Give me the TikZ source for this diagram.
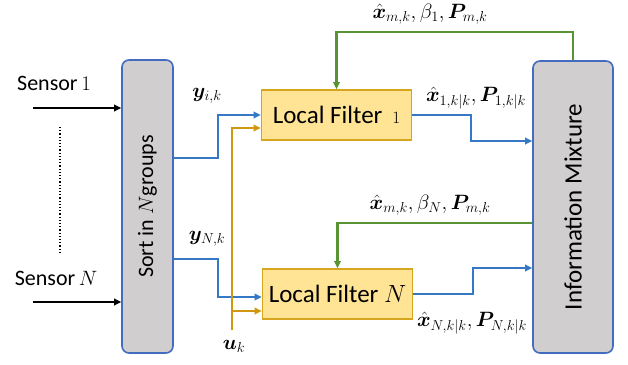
\documentclass[tikz,border=0pt]{standalone}
\usepackage{amsmath}
\usepackage{bm}
\usepackage{fontspec}
\setmainfont{Carlito}
\usetikzlibrary{arrows.meta,calc}
\definecolor{lineblue}{RGB}{52,120,198}
\definecolor{boxblue}{RGB}{68,108,190}
\definecolor{boxgray}{RGB}{208,206,206}
\definecolor{filterfill}{RGB}{255,228,150}
\definecolor{filterdraw}{RGB}{214,166,30}
\definecolor{lineorange}{RGB}{208,152,14}
\definecolor{linegreen}{RGB}{88,148,52}
\tikzset{
  graybox/.style={draw=boxblue,line width=1.6pt,fill=boxgray,rounded corners=7pt,inner sep=0pt},
  filterbox/.style={draw=filterdraw,line width=1.6pt,fill=filterfill,minimum width=150pt,minimum height=50pt,inner sep=0pt,font=\fontsize{25}{27}\selectfont},
  bluew/.style={draw=lineblue,line width=2.4pt},
  greenw/.style={draw=linegreen,line width=2.4pt},
  orangew/.style={draw=lineorange,line width=2.4pt},
  blackw/.style={draw=black,line width=2.4pt},
  tip/.style={-{Triangle[length=7pt,width=6.5pt]}},
  lbl/.style={inner sep=0pt,font=\fontsize{20}{22}\selectfont},
  txt/.style={inner sep=0pt,font=\fontsize{22}{24}\selectfont}
}
\begin{document}
\begin{tikzpicture}[x=1pt,y=-1pt]
\useasboundingbox (0,0) rectangle (628,364);
% boxes
\node[graybox,minimum width=51pt,minimum height=293pt] (sort) at (147.5,206.5) {};
\node[txt,rotate=90] (sorttxt) at (sort.center) {Sort in $N$groups};
\node[graybox,minimum width=80pt,minimum height=292pt] (info) at (573,207) {};
\node[txt,rotate=90,font=\fontsize{25}{27}\selectfont] (infotxt) at (info.center) {Information Mixture};
\node[filterbox] (f1) at (336.5,115) {Local Filter\, {\fontsize{18}{20}\selectfont$1$}};
\node[filterbox] (fN) at (337.5,294) {Local Filter $N$};
% sensors
\node[txt] (s1lbl) at (54,83) {Sensor\,{\fontsize{20}{22}\selectfont$1$}};
\node[txt] (sNlbl) at (56,278) {Sensor{\fontsize{20}{22}\selectfont$\,N$}};
\coordinate (s1) at (33,108);
\coordinate (sN) at (33,302);
\draw[blackw,tip] (s1) -- (s1 -| sort.west);
\draw[blackw,tip] (sN) -- (sN -| sort.west);
\coordinate (d1) at (60,127);
\coordinate (d2) at (60,253);
\draw[line width=1.2pt,dotted] (d1) -- (d2);
% measurements
\coordinate (b1) at (218,158);
\coordinate (bN) at (218,259);
\draw[bluew,tip] (sort.east |- b1) -- (b1) |- (f1.west);
\draw[bluew,tip] (sort.east |- bN) -- (bN) |- ([yshift=-3pt]fN.west);
\node[lbl] (ylbl1) at (207,96) {$\bm{y}_{i,k}$};
\node[lbl] (ylblN) at (207,239) {$\bm{y}_{N,k}$};
% control input
\coordinate (ub) at (232,330);
\coordinate (ut) at (232,128);
\coordinate (um) at (232,311);
\draw[orangew,tip] (ub) -- (ut) -- (ut -| f1.west);
\draw[orangew,tip] (um) -- (um -| fN.west);
\node[lbl] (ulbl) at (234,346) {$\bm{u}_k$};
% feedback
\coordinate (g1) at (573,32);
\draw[greenw,tip] (info.north) -- (g1) -| (f1.north);
\coordinate (gN) at (533,223);
\draw[greenw,tip] (info.west |- gN) -| (fN.north);
\node[lbl] (g1lbl) at (430,14) {$\hat{\bm{x}}_{m,k},\beta_1,\bm{P}_{m,k}$};
\node[lbl] (gNlbl) at (430,205) {$\hat{\bm{x}}_{m,k},\beta_N,\bm{P}_{m,k}$};
% filter outputs
\coordinate (o1a) at (471,115);
\coordinate (o1b) at (471,141);
\draw[bluew,tip] (f1.east) -- (o1a) -- (o1b) -- (info.west |- o1b);
\coordinate (oNa) at (473,294);
\coordinate (oNb) at (473,268);
\draw[bluew,tip] (fN.east) -- (oNa) -- (oNb) -- (info.west |- oNb);
\node[lbl] (o1lbl) at (476,98) {$\hat{\bm{x}}_{1,k|k},\bm{P}_{1,k|k}$};
\node[lbl] (oNlbl) at (472,323) {$\hat{\bm{x}}_{N,k|k},\bm{P}_{N,k|k}$};
\end{tikzpicture}
\end{document}
